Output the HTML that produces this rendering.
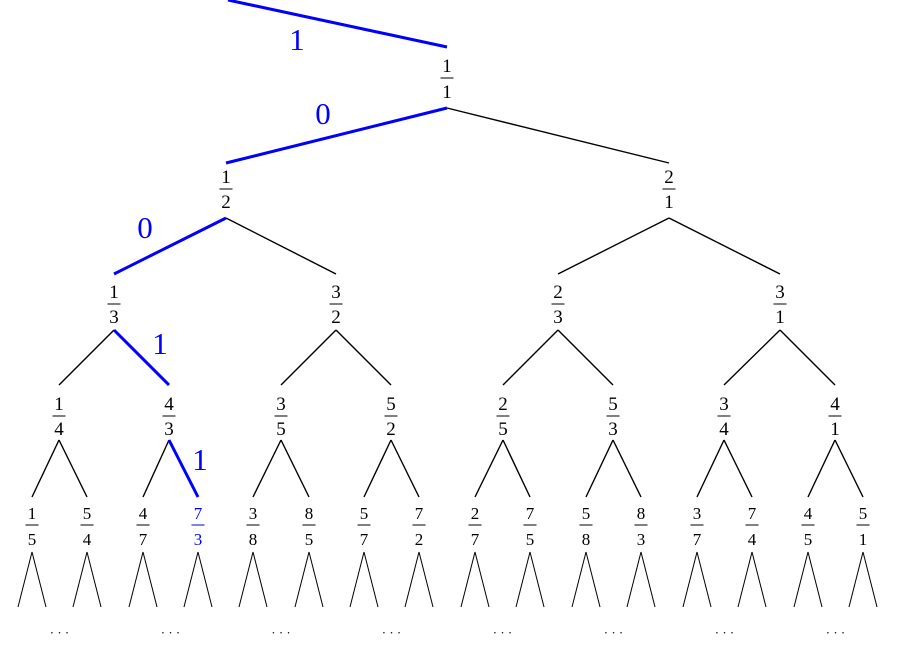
<!DOCTYPE html>
<html><head><meta charset="utf-8"><style>html,body{margin:0;padding:0;background:#fff}svg{display:block}text{font-family:"Liberation Serif",serif}</style></head><body>
<svg width="906" height="645" viewBox="0 0 906 645" xmlns="http://www.w3.org/2000/svg" id="s">
<g stroke="#000" stroke-width="1.4" fill="none">
<line x1="447" y1="108" x2="669" y2="163"/>
<line x1="226" y1="218" x2="336" y2="274"/>
<line x1="669" y1="218" x2="558" y2="274"/><line x1="669" y1="218" x2="780" y2="274"/>
<line x1="114" y1="330" x2="59" y2="385"/>
<line x1="336" y1="330" x2="281" y2="385"/><line x1="336" y1="330" x2="391" y2="385"/>
<line x1="558" y1="330" x2="503" y2="385"/><line x1="558" y1="330" x2="613" y2="385"/>
<line x1="780" y1="330" x2="724" y2="385"/><line x1="780" y1="330" x2="835" y2="385"/>
<line x1="59" y1="440" x2="32" y2="497"/><line x1="59" y1="440" x2="87" y2="497"/>
<line x1="169" y1="440" x2="143" y2="497"/>
<line x1="281" y1="440" x2="253" y2="497"/><line x1="281" y1="440" x2="309" y2="497"/>
<line x1="391" y1="440" x2="364" y2="497"/><line x1="391" y1="440" x2="419" y2="497"/>
<line x1="503" y1="440" x2="475" y2="497"/><line x1="503" y1="440" x2="530" y2="497"/>
<line x1="613" y1="440" x2="586" y2="497"/><line x1="613" y1="440" x2="641" y2="497"/>
<line x1="724" y1="440" x2="697" y2="497"/><line x1="724" y1="440" x2="752" y2="497"/>
<line x1="835" y1="440" x2="808" y2="497"/><line x1="835" y1="440" x2="863" y2="497"/>
</g>
<g stroke="#00f" stroke-width="3" fill="none">
<line x1="228" y1="0" x2="447" y2="47"/>
<line x1="447" y1="108" x2="226" y2="163"/>
<line x1="226" y1="218" x2="114" y2="274"/>
<line x1="114" y1="330" x2="169" y2="385"/>
<line x1="169" y1="440" x2="198" y2="497"/>
</g>
<g fill="#00f" font-size="31" text-anchor="middle">
<text x="297" y="50">1</text><text x="323" y="124">0</text><text x="145" y="238">0</text><text x="160" y="354">1</text><text x="200" y="470">1</text>
</g>
<g id="nodes" font-size="19" text-anchor="middle"></g>
<g stroke="#000" stroke-width="1.4" fill="none" id="leaves"></g>
<g id="dots" font-size="13" text-anchor="middle"></g>
<script>
var ns="http://www.w3.org/2000/svg";
function T(g,x,y,s,c,fs){var t=document.createElementNS(ns,"text");t.setAttribute("x",x);t.setAttribute("y",y);t.textContent=s;if(c)t.setAttribute("fill",c);if(fs)t.setAttribute("font-size",fs);g.appendChild(t);}
function L(g,x1,y1,x2,y2,c){var l=document.createElementNS(ns,"line");l.setAttribute("x1",x1);l.setAttribute("y1",y1);l.setAttribute("x2",x2);l.setAttribute("y2",y2);l.setAttribute("stroke",c||"#000");l.setAttribute("stroke-width","1");g.appendChild(l);}
var N=document.getElementById("nodes");
var lv=[[47,65,78,91,[[447,"1","1"]]],[163,176,189,201,[[226,"1","2"],[669,"2","1"]]],
[274,291,304,316,[[114,"1","3"],[336,"3","2"],[558,"2","3"],[780,"3","1"]]],
[385,403,416,428,[[59,"1","4"],[169,"4","3"],[281,"3","5"],[391,"5","2"],[503,"2","5"],[613,"5","3"],[724,"3","4"],[835,"4","1"]]],
[497,512,525,538,[[32,"1","5"],[87,"5","4"],[143,"4","7"],[198,"7","3"],[253,"3","8"],[309,"8","5"],[364,"5","7"],[419,"7","2"],[475,"2","7"],[530,"7","5"],[586,"5","8"],[641,"8","3"],[697,"3","7"],[752,"7","4"],[808,"4","5"],[863,"5","1"]]]];
lv.forEach(function(v,i){v[4].forEach(function(n){var c=(i==4&&n[0]==198)?"#00f":null;var fs=i==4?"17":null;
T(N,n[0],v[1]+7,n[1],c,fs);L(N,n[0]-6.5,v[2],n[0]+6.5,v[2],c||"#000");T(N,n[0],v[3]+7,n[2],c,fs);});});
var Lv=document.getElementById("leaves"),D=document.getElementById("dots");
lv[4][4].forEach(function(n,i){L(Lv,n[0],552,n[0]-14,607);L(Lv,n[0],552,n[0]+14,607);
if(i%2==0){T(D,(n[0]+lv[4][4][i+1][0])/2,637,"· · ·");}});
</script>
</svg>
</body></html>
